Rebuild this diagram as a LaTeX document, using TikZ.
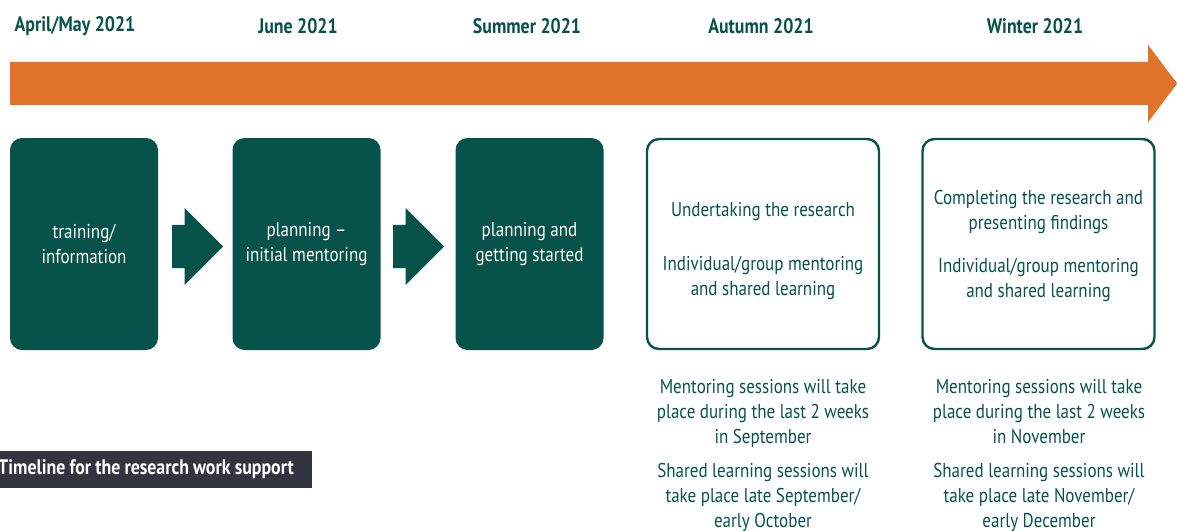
\documentclass[tikz,border=0pt]{standalone}
\usepackage{fontspec}
\setmainfont{PT Sans}[FakeStretch=0.85]
\usepackage{xcolor}
\definecolor{deepGreen}{HTML}{07524A}
\definecolor{timeOrange}{HTML}{E0742A}
\definecolor{slateGrey}{HTML}{32353F}
\usetikzlibrary{positioning,shapes.arrows,calc}

\begin{document}
\begin{tikzpicture}[x=1pt, y=-1pt,
  date/.style={font=\fontsize{21}{24}\selectfont\bfseries, text=deepGreen},
  phase/.style={rounded corners=12pt, fill=deepGreen, text=white, align=center,
                minimum width=148pt, minimum height=212pt, inner sep=0pt,
                font=\fontsize{20}{25}\selectfont},
  phaseopen/.style={phase, fill=white, draw=deepGreen, line width=2.4pt,
                    minimum width=232pt, minimum height=210pt},
  fatarrow/.style={single arrow, anchor=tail, inner xsep=0pt, inner ysep=21.5pt,
                   single arrow head extend=17pt},
  chev/.style={fatarrow, fill=deepGreen, minimum height=51pt,
               single arrow tip angle=90},
  note/.style={text=deepGreen, align=center, font=\fontsize{20}{25}\selectfont}
]
\useasboundingbox (0,0) rectangle (1177,530);

%% time line along the top
\node[fatarrow, fill=timeOrange, minimum height=1167pt,
      single arrow tip angle=106] (line) at (10,83.5) {};
\node[date] (d1) at (75,26)   {April/May 2021};
\node[date] (d2) at (298,26)  {June 2021};
\node[date] (d3) at (527,26)  {Summer 2021};
\node[date] (d4) at (761,26)  {Autumn 2021};
\node[date] (d5) at (1035,26) {Winter 2021};

%% first three stages
\node[phase] (b1) at (84,244)    {training/\\information};
\node[phase] (b2) at (306.5,244) {planning --\\initial mentoring};
\node[phase] (b3) at (529.5,244) {planning and\\getting started};
\node[chev]  (c1) at (172,246.5) {};
\node[chev]  (c2) at (393,246.5) {};

%% research stages
\node[phaseopen] (b4) at (763,244)    {};
\node[phaseopen] (b5) at (1038.5,244) {};
\node[note] (t4) at ($(b4)+(0,7)$)
  {Undertaking the research\\[29pt]Individual/group mentoring\\and shared learning};
\node[note] (t5) at ($(b5)+(0,2)$)
  {Completing the research and\\presenting findings\\[18pt]Individual/group mentoring\\and shared learning};

%% session dates
\node[note] (n4) at (763,455)
  {Mentoring sessions will take\\place during the last 2 weeks\\in September\\[9pt]Shared learning sessions will\\take place late September/\\early October};
\node[note] (n5) at (1039,455)
  {Mentoring sessions will take\\place during the last 2 weeks\\in November\\[9pt]Shared learning sessions will\\take place late November/\\early December};

%% caption bar
\node[fill=slateGrey, text=white, anchor=west, inner xsep=8pt, text width=306pt,
      minimum height=37pt, align=left, font=\fontsize{21}{22}\selectfont\bfseries]
  (cap) at (-10,469.5) {\spaceskip=0.2em\relax Timeline for the research work support};
\end{tikzpicture}
\end{document}
